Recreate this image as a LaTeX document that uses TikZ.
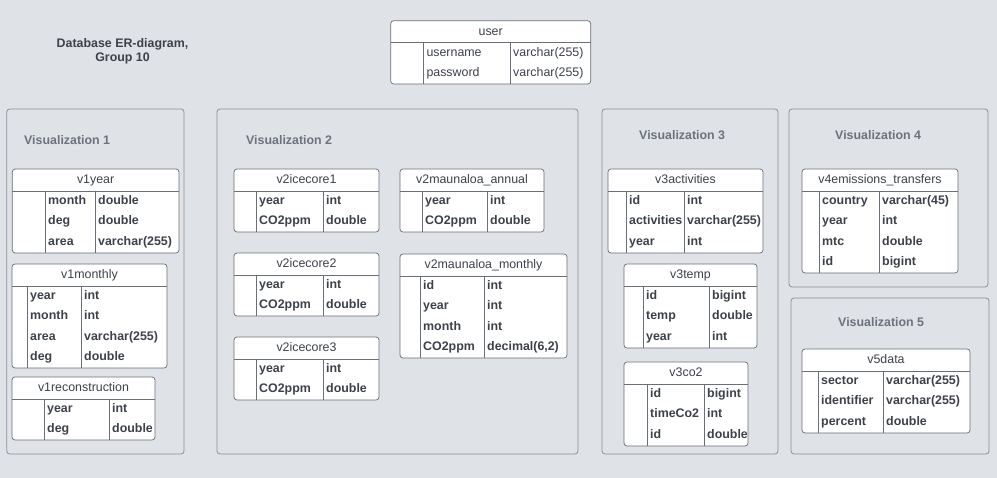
\documentclass[tikz,border=0pt]{standalone}
\usepackage{fontspec}
\setmainfont{Liberation Sans}
\usepackage{tikz}
\usetikzlibrary{positioning}

\definecolor{bggray}{HTML}{DFE2E6}
\definecolor{vizborder}{HTML}{8C9098}
\definecolor{tableborder}{HTML}{6A6E76}
\definecolor{textdark}{HTML}{3D4149}
\definecolor{titlegray}{HTML}{6E727C}

% one table: [text style]{name}{left}{top}{right}{bottom}{divider 1}{divider 2}{field/type list}
\newcommand{\ertable}[9][fieldtext]{%
\draw[tablebox] (#3,#4) rectangle (#5,#6);
\draw[tableline] (#3,#4+22) -- (#5,#4+22);
\draw[tableline] (#7,#4+22) -- (#7,#6);
\draw[tableline] (#8,#4+22) -- (#8,#6);
\node[headtext] (#2) at ({(#3+#5)/2},#4+12) {\detokenize{#2}};
\foreach \fname/\ftype [count=\i from 0] in {#9} {
  \node[#1, anchor=west] (#2-f\i) at (#7+3,#4+32.5+20.5*\i) {\fname};
  \node[#1, anchor=west] (#2-t\i) at (#8+3,#4+32.5+20.5*\i) {\ftype};
}%
}

\begin{document}
\begin{tikzpicture}[x=1pt, y=-1pt,
  vizbox/.style={draw=vizborder, fill=bggray, line width=0.8pt, rounded corners=3pt},
  viztitle/.style={font=\fontsize{12.4}{14}\selectfont\bfseries, text=titlegray, inner sep=0pt, anchor=west},
  tablebox/.style={draw=tableborder, fill=white, line width=0.7pt, rounded corners=3pt},
  tableline/.style={draw=tableborder, line width=0.7pt},
  headtext/.style={font=\fontsize{12.4}{14}\selectfont, text=textdark, inner sep=0pt, text height=9pt, text depth=3pt},
  fieldtext/.style={font=\fontsize{12.4}{14}\selectfont\bfseries, text=textdark, inner sep=0pt, text height=9pt, text depth=3pt},
  plaintext/.style={font=\fontsize{12.4}{14}\selectfont, text=textdark, inner sep=0pt, text height=9pt, text depth=3pt}]

\fill[bggray] (0,0) rectangle (997,478);
\useasboundingbox (0,0) rectangle (997,478);

% title
\node[align=center, font=\fontsize{12.4}{14.3}\selectfont\bfseries, text=textdark] (title) at (122.5,51.5) {Database ER-diagram,\\Group 10};

% user table
\ertable[plaintext]{user}{390.7}{20.7}{590.7}{84}{423.3}{510}{username/varchar(255), password/varchar(255)}

% visualization boxes
\draw[vizbox] (6.7,109) rectangle (184,454);
\draw[vizbox] (217,109) rectangle (578,454);
\draw[vizbox] (602,109) rectangle (778,454);
\draw[vizbox] (789,109) rectangle (988,287);
\draw[vizbox] (791,298) rectangle (989,454);
\node[viztitle] (viz1) at (24,140) {Visualization 1};
\node[viztitle] (viz2) at (246,140) {Visualization 2};
\node[viztitle] (viz3) at (639,135.5) {Visualization 3};
\node[viztitle] (viz4) at (835,135.5) {Visualization 4};
\node[viztitle] (viz5) at (838,322.5) {Visualization 5};

% visualization 1
\ertable{v1year}{12.3}{169}{179}{253}{45}{95}{month/double, deg/double, area/varchar(255)}
\ertable{v1monthly}{12}{264}{167}{368}{27}{81}{year/int, month/int, area/varchar(255), deg/double}
\ertable{v1reconstruction}{12}{377}{155}{440}{44}{109}{year/int, deg/double}

% visualization 2
\ertable{v2icecore1}{234}{169}{379}{232}{256}{323}{year/int, CO2ppm/double}
\ertable{v2icecore2}{234}{253}{379}{316}{256}{323}{year/int, CO2ppm/double}
\ertable{v2icecore3}{234}{337}{379}{400}{256}{323}{year/int, CO2ppm/double}
\ertable{v2maunaloa_annual}{400}{169}{544}{232}{422}{487}{year/int, CO2ppm/double}
\ertable{v2maunaloa_monthly}{400}{254}{567}{358}{420}{484}{id/int, year/int, month/int, {CO2ppm/decimal(6,2)}}

% visualization 3
\ertable{v3activities}{608}{169}{763}{253}{626}{684}{id/int, activities/varchar(255), year/int}
\ertable{v3temp}{624}{264}{757}{348}{643}{709}{id/bigint, temp/double, year/int}
\ertable{v3co2}{624}{362}{748}{446}{647}{704}{id/bigint, timeCo2/int, id/double}

% visualization 4 and 5
\ertable{v4emissions_transfers}{802}{169}{958}{273}{819}{879}{country/varchar(45), year/int, mtc/double, id/bigint}
\ertable{v5data}{802}{349}{970}{433}{818}{883}{sector/varchar(255), identifier/varchar(255), percent/double}
\end{tikzpicture}
\end{document}
